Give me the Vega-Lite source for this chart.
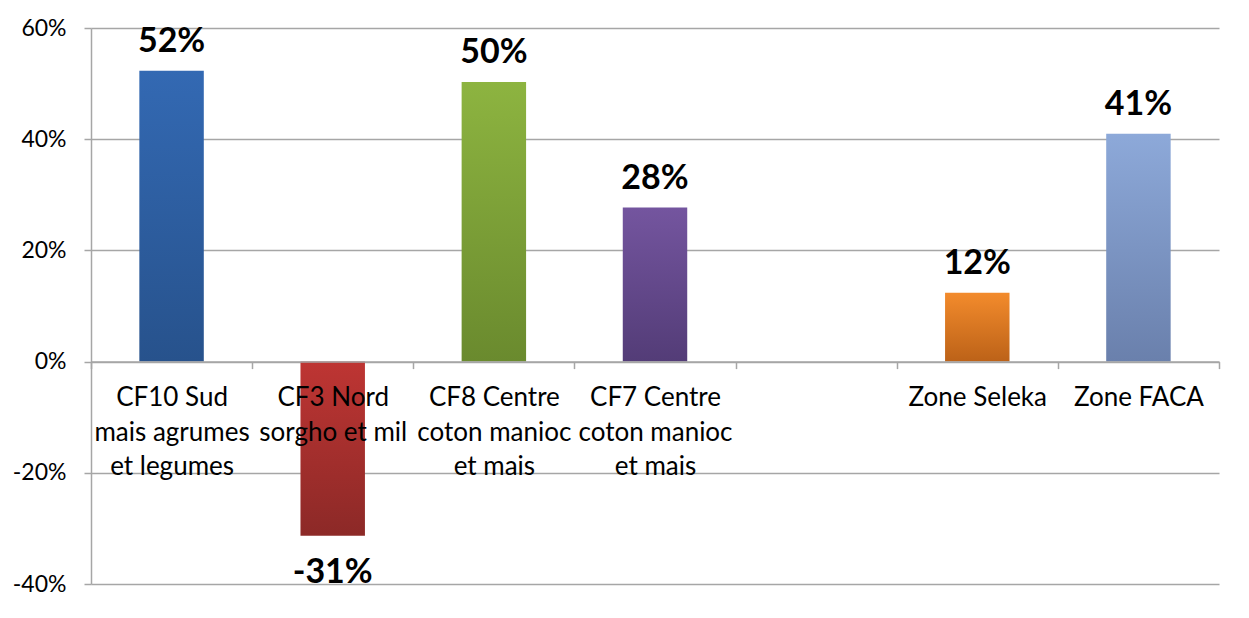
{
  "$schema": "https://vega.github.io/schema/vega-lite/v6.json",
  "autosize": "none",
  "width": 1128,
  "height": 556,
  "padding": {"left": 91, "top": 28, "right": 30, "bottom": 34},
  "background": "white",
  "config": {"view": {"stroke": null}, "font": "Lato",
    "locale": {"number": {"decimal": ".", "thousands": ",", "grouping": [3], "currency": ["", ""], "minus": "-"}}},
  "data": {"values": [
    {"cat": "CF10 Sud|mais agrumes|et legumes", "v": 0.523, "g": "a"},
    {"cat": "CF3 Nord|sorgho et mil", "v": -0.313, "g": "b"},
    {"cat": "CF8 Centre|coton manioc|et mais", "v": 0.503, "g": "c"},
    {"cat": "CF7 Centre|coton manioc|et mais", "v": 0.277, "g": "d"},
    {"cat": "Zone Seleka", "v": 0.124, "g": "e"},
    {"cat": "Zone FACA", "v": 0.41, "g": "f"}
  ]},
  "encoding": {
    "x": {"field": "cat", "type": "nominal", "sort": null,
      "scale": {"domain": ["CF10 Sud|mais agrumes|et legumes", "CF3 Nord|sorgho et mil", "CF8 Centre|coton manioc|et mais", "CF7 Centre|coton manioc|et mais", " ", "Zone Seleka", "Zone FACA"], "paddingInner": 0, "paddingOuter": 0},
      "axis": {"title": null, "zindex": 1, "labelAngle": 0, "offset": -222.4, "tickBand": "extent", "tickSize": 7, "tickColor": "#A6A6A6", "tickWidth": 1.5, "domainColor": "#A6A6A6", "domainWidth": 1.5, "labelFont": "Lato", "labelFontSize": 26, "labelColor": "#000000", "labelBaseline": "top", "labelPadding": 16, "labelLineHeight": 34.5, "labelExpr": "split(datum.label, '|')"}},
    "y": {"field": "v", "type": "quantitative",
      "scale": {"domain": [-0.4, 0.6], "nice": false, "zero": false},
      "axis": {"title": null, "format": ".0%", "values": [-0.4, -0.2, 0, 0.2, 0.4, 0.6], "tickSize": 7, "tickColor": "#A6A6A6", "tickWidth": 1.5, "domainColor": "#A6A6A6", "domainWidth": 1.5, "gridColor": "#A6A6A6", "gridWidth": 1.5, "labelFont": "Lato", "labelFontSize": 23, "labelColor": "#000000", "labelPadding": 18}}
  },
  "layer": [
    {"transform": [{"filter": "datum.g == 'a'"}], "mark": {"type": "bar", "width": {"band": 0.4}, "color": {"gradient": "linear", "x1": 0, "y1": 0, "x2": 0, "y2": 1, "stops": [{"offset": 0, "color": "#3369B3"}, {"offset": 1, "color": "#27528C"}]}}},
    {"transform": [{"filter": "datum.g == 'b'"}], "mark": {"type": "bar", "width": {"band": 0.4}, "color": {"gradient": "linear", "x1": 0, "y1": 0, "x2": 0, "y2": 1, "stops": [{"offset": 0, "color": "#BE3533"}, {"offset": 1, "color": "#8C2927"}]}}},
    {"transform": [{"filter": "datum.g == 'c'"}], "mark": {"type": "bar", "width": {"band": 0.4}, "color": {"gradient": "linear", "x1": 0, "y1": 0, "x2": 0, "y2": 1, "stops": [{"offset": 0, "color": "#8DB440"}, {"offset": 1, "color": "#6A8A2E"}]}}},
    {"transform": [{"filter": "datum.g == 'd'"}], "mark": {"type": "bar", "width": {"band": 0.4}, "color": {"gradient": "linear", "x1": 0, "y1": 0, "x2": 0, "y2": 1, "stops": [{"offset": 0, "color": "#74559F"}, {"offset": 1, "color": "#533C77"}]}}},
    {"transform": [{"filter": "datum.g == 'e'"}], "mark": {"type": "bar", "width": {"band": 0.4}, "color": {"gradient": "linear", "x1": 0, "y1": 0, "x2": 0, "y2": 1, "stops": [{"offset": 0, "color": "#F38B2C"}, {"offset": 1, "color": "#BC6218"}]}}},
    {"transform": [{"filter": "datum.g == 'f'"}], "mark": {"type": "bar", "width": {"band": 0.4}, "color": {"gradient": "linear", "x1": 0, "y1": 0, "x2": 0, "y2": 1, "stops": [{"offset": 0, "color": "#8DA9D9"}, {"offset": 1, "color": "#6A80AC"}]}}},
    {"transform": [{"filter": "datum.v >= 0"}], "mark": {"type": "text", "font": "Lato", "fontWeight": "bold", "fontSize": 34, "color": "#000000", "baseline": "bottom", "dy": -12},
      "encoding": {"text": {"field": "v", "type": "quantitative", "format": ".0%"}}},
    {"transform": [{"filter": "datum.v < 0"}], "mark": {"type": "text", "font": "Lato", "fontWeight": "bold", "fontSize": 34, "color": "#000000", "baseline": "top", "dy": 20},
      "encoding": {"text": {"field": "v", "type": "quantitative", "format": ".0%"}}}
  ]
}
